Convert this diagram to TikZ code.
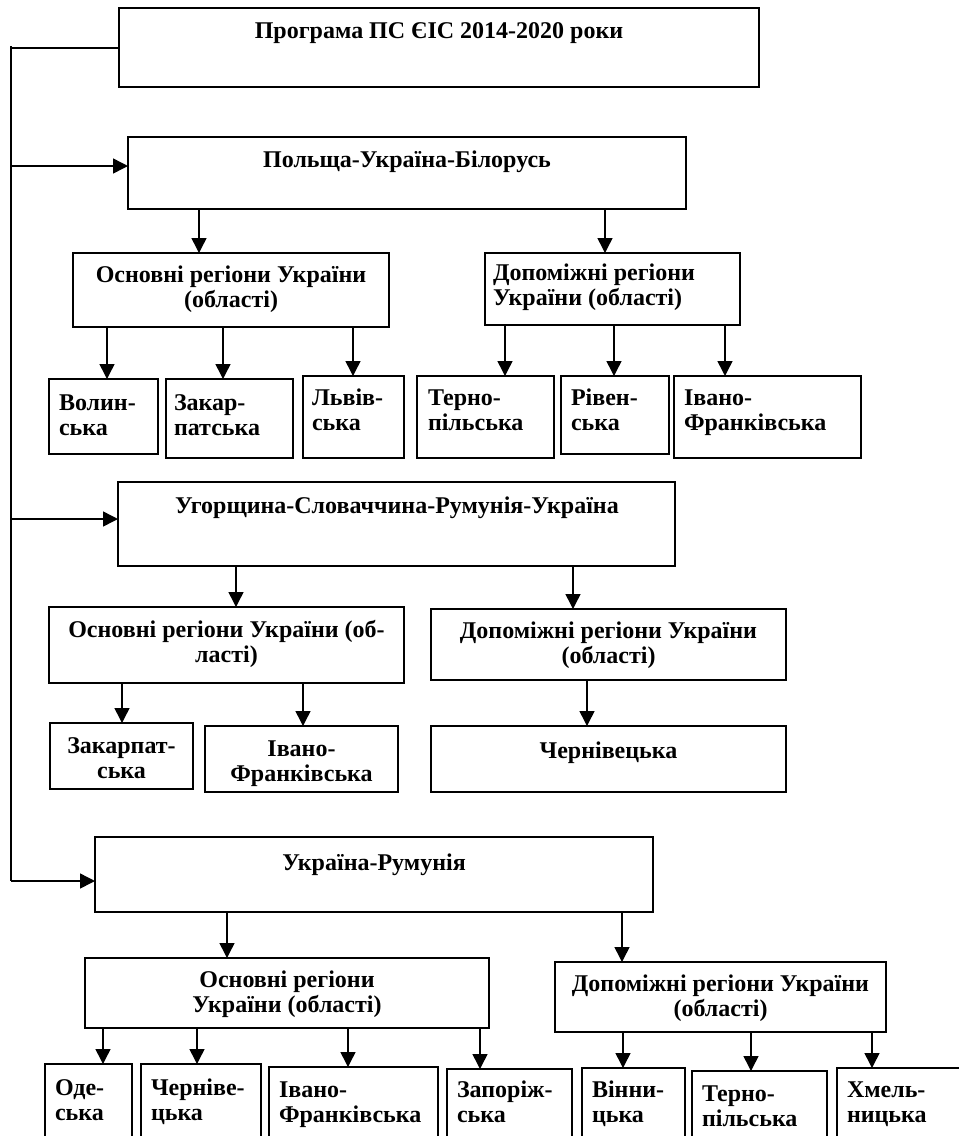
\documentclass[tikz,border=0pt]{standalone}
\usepackage{fontspec}
\setmainfont{Liberation Serif}
\usetikzlibrary{arrows.meta}
\newcommand\twol[2]{\begin{tabular}[t]{@{}l@{}}#1\\#2\end{tabular}}
\newcommand\twoc[2]{\begin{tabular}[t]{@{}c@{}}#1\\#2\end{tabular}}
\newcommand\bx[5]{\node[box, minimum width={(#4-#2)*1pt}, minimum height={(#5-#3)*1pt}, anchor=north west] (#1) at (#2,#3) {};}
\begin{document}
\begin{tikzpicture}[x=1pt, y=-1pt,
  font=\fontsize{24}{25}\selectfont\bfseries,
  box/.style={draw, line width=1.5pt, inner sep=0pt, outer sep=0pt},
  txt/.style={inner sep=0pt, outer sep=0pt},
  ln/.style={line width=1.5pt},
  arr/.style={line width=1.5pt, -{Triangle[length=15pt,width=15pt]}}]
\useasboundingbox (0,0) rectangle (959,1136);
\clip (0,0) rectangle (959,1136);
% boxes
\bx{top}{119}{8}{759}{87}
\bx{pu}{128}{137}{686}{209}
\bx{o1}{73}{253}{389}{327}
\bx{d1}{485}{253}{740}{325}
\bx{vol}{49}{379}{158}{454}
\bx{zak}{166}{379}{293}{458}
\bx{lviv}{303}{376}{404}{458}
\bx{ter}{417}{376}{554}{458}
\bx{riv}{561}{376}{669}{454}
\bx{iv}{674}{376}{861}{458}
\bx{hu}{118}{482}{675}{566}
\bx{o2}{49}{607}{404}{683}
\bx{d2}{431}{609}{786}{680}
\bx{zakb}{50}{723}{193}{789}
\bx{ivb}{205}{726}{398}{792}
\bx{chb}{431}{726}{786}{792}
\bx{ur}{95}{837}{653}{912}
\bx{o3}{85}{958}{489}{1028}
\bx{d3}{555}{962}{886}{1032}
\bx{od}{45}{1064}{132}{1150}
\bx{chc}{141}{1064}{261}{1150}
\bx{ivc}{269}{1067}{438}{1150}
\bx{zap}{447}{1069}{572}{1150}
\bx{vin}{582}{1068}{685}{1150}
\bx{terc}{692}{1071}{827}{1150}
\bx{khm}{837}{1068}{970}{1150}
% texts
\node[txt, anchor=base] (ttop) at (439,38) {Програма ПС ЄІС 2014-2020 роки};
\node[txt, anchor=base] (tpu) at (407,167) {Польща-Україна-Білорусь};
\node[txt, anchor=base] (thu) at (397,513) {Угорщина-Словаччина-Румунія-Україна};
\node[txt, anchor=base] (tur) at (374,870) {Україна-Румунія};
\node[txt, anchor=base] (to1) at (231,282) {\twoc{Основні регіони України}{(області)}};
\node[txt, anchor=base west] (td1) at (493,280) {\twol{Допоміжні регіони}{України (області)}};
\node[txt, anchor=base west] (tvol) at (59,410) {\twol{Волин-}{ська}};
\node[txt, anchor=base west] (tzak) at (174,410) {\twol{Закар-}{патська}};
\node[txt, anchor=base west] (tlviv) at (312,405) {\twol{Львів-}{ська}};
\node[txt, anchor=base west] (tter) at (428,405) {\twol{Терно-}{пільська}};
\node[txt, anchor=base west] (triv) at (571,405) {\twol{Рівен-}{ська}};
\node[txt, anchor=base west] (tiv) at (684,405) {\twol{Івано-}{Франківська}};
\node[txt, anchor=base] (to2) at (226.5,637) {\twoc{Основні регіони України (об-}{ласті)}};
\node[txt, anchor=base] (td2) at (608.5,638) {\twoc{Допоміжні регіони України}{(області)}};
\node[txt, anchor=base] (tzakb) at (121.5,753) {\twoc{Закарпат-}{ська}};
\node[txt, anchor=base] (tivb) at (301.5,756) {\twoc{Івано-}{Франківська}};
\node[txt, anchor=base] (tchb) at (608.5,758) {Чернівецька};
\node[txt, anchor=base] (to3) at (287,987) {\twoc{Основні регіони}{України (області)}};
\node[txt, anchor=base] (td3) at (720.5,991) {\twoc{Допоміжні регіони України}{(області)}};
\node[txt, anchor=base west] (tod) at (55,1095) {\twol{Оде-}{ська}};
\node[txt, anchor=base west] (tchc) at (151,1095) {\twol{Черніве-}{цька}};
\node[txt, anchor=base west] (tivc) at (279,1097) {\twol{Івано-}{Франківська}};
\node[txt, anchor=base west] (tzap) at (457,1097) {\twol{Запоріж-}{ська}};
\node[txt, anchor=base west] (tvin) at (592,1097) {\twol{Вінни-}{цька}};
\node[txt, anchor=base west] (tterc) at (702,1101) {\twol{Терно-}{пільська}};
\node[txt, anchor=base west] (tkhm) at (847,1097) {\twol{Хмель-}{ницька}};
% trunk
\coordinate (t0) at (11,46);
\coordinate (t0h) at (11,48);
\coordinate (j1) at (11,166);
\coordinate (j2) at (11,519);
\coordinate (j3) at (11,881);
\draw[ln] (t0) -- (j3);
\draw[ln] (t0h) -- (top.west |- t0h);
\draw[arr] (j1) -- (pu.west |- j1);
\draw[arr] (j2) -- (hu.west |- j2);
\draw[arr] (j3) -- (ur.west |- j3);
% arrows
\draw[arr] (pu.south -| 199,0) -- (o1.north -| 199,0);
\draw[arr] (pu.south -| 605,0) -- (d1.north -| 605,0);
\draw[arr] (o1.south -| 107,0) -- (vol.north -| 107,0);
\draw[arr] (o1.south -| 223,0) -- (zak.north -| 223,0);
\draw[arr] (o1.south -| 353,0) -- (lviv.north -| 353,0);
\draw[arr] (d1.south -| 505,0) -- (ter.north -| 505,0);
\draw[arr] (d1.south -| 614,0) -- (riv.north -| 614,0);
\draw[arr] (d1.south -| 725,0) -- (iv.north -| 725,0);
\draw[arr] (hu.south -| 236,0) -- (o2.north -| 236,0);
\draw[arr] (hu.south -| 573,0) -- (d2.north -| 573,0);
\draw[arr] (o2.south -| 122,0) -- (zakb.north -| 122,0);
\draw[arr] (o2.south -| 303,0) -- (ivb.north -| 303,0);
\draw[arr] (d2.south -| 587,0) -- (chb.north -| 587,0);
\draw[arr] (ur.south -| 227,0) -- (o3.north -| 227,0);
\draw[arr] (ur.south -| 622,0) -- (d3.north -| 622,0);
\draw[arr] (o3.south -| 103,0) -- (od.north -| 103,0);
\draw[arr] (o3.south -| 197,0) -- (chc.north -| 197,0);
\draw[arr] (o3.south -| 348,0) -- (ivc.north -| 348,0);
\draw[arr] (o3.south -| 480,0) -- (zap.north -| 480,0);
\draw[arr] (d3.south -| 623,0) -- (vin.north -| 623,0);
\draw[arr] (d3.south -| 751,0) -- (terc.north -| 751,0);
\draw[arr] (d3.south -| 872,0) -- (khm.north -| 872,0);
\end{tikzpicture}
\end{document}
